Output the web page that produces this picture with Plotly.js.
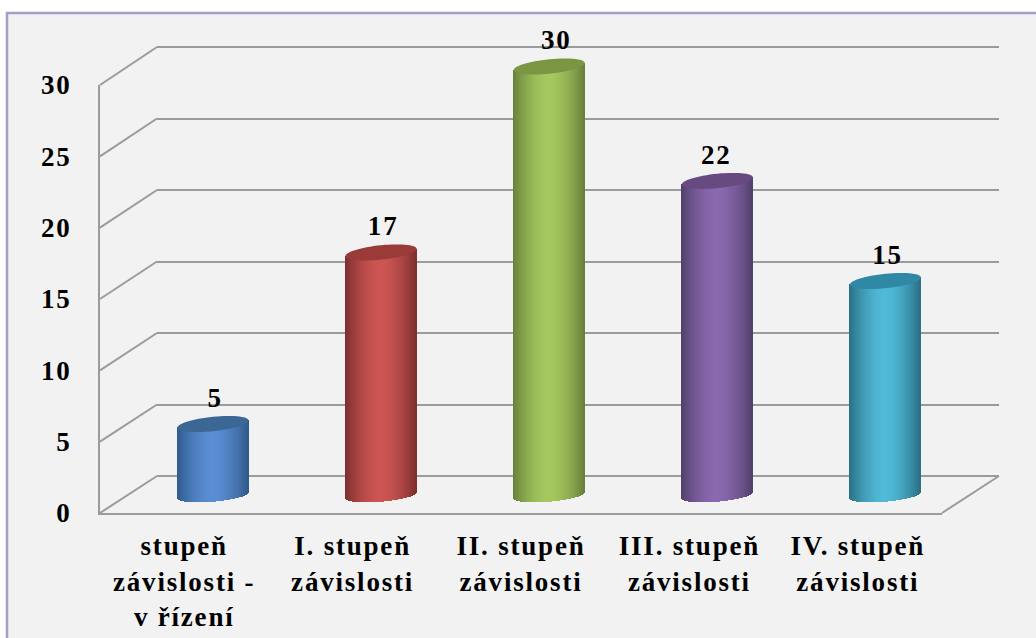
<!DOCTYPE html>
<html><head><meta charset="utf-8">
<script src="https://cdn.plot.ly/plotly-3.0.1.min.js"></script>
<style>
html,body{margin:0;padding:0;background:#fff;overflow:hidden}
#chart{width:1036px;height:638px}
.x2tick text,.y2tick text,.textpoint text{letter-spacing:1.8px;-webkit-text-stroke:.4px #000}
</style></head><body><div id="chart"></div>
<script>
const categories = ["stupeň<br>závislosti -<br>v řízení","I. stupeň<br>závislosti","II. stupeň<br>závislosti","III. stupeň<br>závislosti","IV. stupeň<br>závislosti"];
const values = [5,17,30,22,15];
const yTicks = [0,5,10,15,20,25,30];
const centreColors = ["#5a8dd3","#cd5552","#a6c95f","#8a69af","#50bad8"];
const edgeColors = ["#2f5a8b","#7d2f2e","#68803a","#523f6c","#2a6e84"];
const capColors = ["#3c6694","#9a3b39","#7b9543","#664a80","#2f89a4"];
const labelNudgePx = [2,2,7,-1,2];

const W=1036,H=638, fs=27, gridColor="#9b9b9b", font="Liberation Serif";
const px=v=>v/W, py=v=>1-v/H;
const idx=categories.map((c,i)=>i);
// three depth planes of the 3-D box
const front={x0:100,x1:942,y0:513,y30:85}, back={x0:157,x1:999,y0:476,y30:47};
const bar={x0:129,x1:969.5,y0:495.5,ppu:14.3,lo:-2,hi:34};
const fy=(p,v)=>p.y0+(p.y30-p.y0)*v/30;
const catPx=(bar.x1-bar.x0)/5;
const halfW=35.5/catPx, N=71;
const sTop=3.5,bTop=7.2,sBase=3,bBase=6.5;

function hex(c){return [1,3,5].map(i=>parseInt(c.substr(i,2),16));}
function mix(a,b,t){const A=hex(a),B=hex(b);return "rgb("+A.map((v,i)=>Math.round(v+(B[i]-v)*t)).join(",")+")";}

const sx=[],sy=[],sb=[],sc=[];
idx.forEach(i=>{
  for(let k=0;k<N;k++){
    const u=-1+2*(k+.5)/N, r=Math.sqrt(1-u*u);
    const base=(sBase*u-bBase*r)/bar.ppu;
    const top=values[i]+sTop*u/bar.ppu;
    sx.push(i+u*halfW); sb.push(base); sy.push(top-base);
    sc.push(mix(centreColors[i],edgeColors[i],Math.pow(Math.abs(u),1.7)));
  }
});
const traces=[
 {type:"bar",x:idx,y:values,width:60/catPx,opacity:1,marker:{color:centreColors,line:{width:0}},xaxis:"x3",yaxis:"y3",hoverinfo:"skip"},
 {type:"bar",x:sx,y:sy,base:sb,width:1.2/catPx,opacity:1,marker:{color:sc,line:{width:0}},xaxis:"x3",yaxis:"y3",hoverinfo:"skip"},
 {type:"scatter",mode:"markers+text",x:idx.map(i=>i+labelNudgePx[i]/catPx),y:values,text:values.map(String),textposition:"top center",
  marker:{size:15,opacity:0},textfont:{family:font,size:fs,color:"#000",weight:700},cliponaxis:false,xaxis:"x3",yaxis:"y3",hoverinfo:"skip"},
 {type:"scatter",mode:"none",x:[0],y:[0],xaxis:"x",yaxis:"y",hoverinfo:"skip"},
 {type:"scatter",mode:"none",x:[0],y:[0],xaxis:"x2",yaxis:"y2",hoverinfo:"skip"}
];

const shapes=[{type:"rect",xref:"paper",yref:"paper",x0:px(7),x1:px(1045),y0:py(13),y1:py(650),
  line:{color:"#a99cc7",width:2.5},fillcolor:"#f2f2f2",layer:"below"}];
const oblique=(xa,ya,xb,yb)=>({type:"line",xref:"paper",yref:"paper",x0:px(xa),y0:py(ya),x1:px(xb),y1:py(yb),
  line:{color:gridColor,width:2},layer:"below"});
yTicks.forEach(t=>shapes.push(oblique(front.x0,fy(front,t),back.x0,fy(back,t))));
shapes.push(oblique(front.x1,front.y0,back.x1,back.y0));
idx.forEach(i=>{
  let d="";
  for(let k=0;k<=60;k++){
    const a=2*Math.PI*k/60,u=Math.cos(a);
    const xv=i+u*halfW, yv=values[i]+(sTop*u+bTop*Math.sin(a))/bar.ppu;
    d+=(k?"L":"M")+xv+","+yv;
  }
  shapes.push({type:"path",xref:"x3",yref:"y3",path:d+"Z",fillcolor:capColors[i],line:{width:0},layer:"above"});
});

const tickFont={family:font,size:fs,color:"#000",weight:700};
const layout={
 width:W,height:H,margin:{l:0,r:0,t:0,b:0},showlegend:false,barmode:"overlay",bargap:0,bargroupgap:0,
 paper_bgcolor:"#fff",plot_bgcolor:"rgba(0,0,0,0)",shapes,
 // back wall: gridlines (range padded so the 0 and 30 gridlines are not at the domain edge)
 xaxis:{domain:[px(back.x0),px(back.x1)],range:[-.5,4.5],showgrid:false,zeroline:false,showticklabels:false,ticks:"",anchor:"y"},
 yaxis:{domain:[py(fy(back,-2)),py(fy(back,32))],range:[-2,32],tickvals:yTicks,showgrid:true,gridcolor:gridColor,gridwidth:2,zeroline:false,showticklabels:false,ticks:"",anchor:"x"},
 // front edge: axis lines and tick labels
 xaxis2:{domain:[px(front.x0),px(front.x1)],range:[-.5,4.5],tickvals:idx,ticktext:categories,tickangle:0,tickfont:tickFont,
   showgrid:false,zeroline:false,showline:true,linecolor:gridColor,linewidth:2,ticks:"",ticklabelstandoff:8,anchor:"y2"},
 yaxis2:{domain:[py(front.y0),py(front.y30)],range:[0,30],tickvals:yTicks,tickfont:tickFont,
   showgrid:false,zeroline:false,showline:true,linecolor:gridColor,linewidth:2,ticks:"",ticklabelstandoff:21,anchor:"x2"},
 // mid depth: the cylinders
 xaxis3:{domain:[px(bar.x0),px(bar.x1)],range:[-.5,4.5],visible:false,anchor:"y3"},
 yaxis3:{domain:[py(bar.y0-bar.lo*bar.ppu),py(bar.y0-bar.hi*bar.ppu)],range:[bar.lo,bar.hi],visible:false,anchor:"x3"}
};
Plotly.newPlot("chart",traces,layout,{displayModeBar:false});
</script></body></html>
